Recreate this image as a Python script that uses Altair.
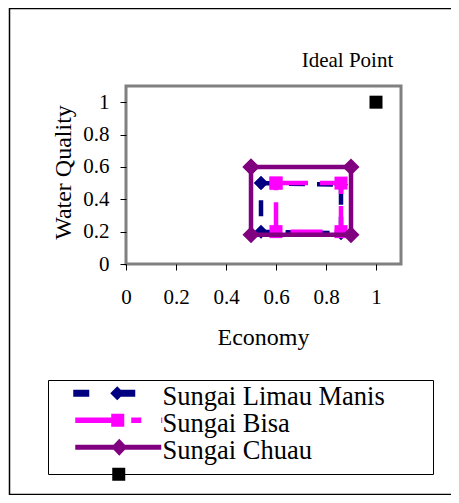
import altair as alt
import pandas as pd

# ---- data ----
series_names = ["Sungai Limau Manis", "Sungai Bisa", "Sungai Chuau"]
ideal_name = "Ideal Point"

limau_economy = [0.54, 0.86, 0.86, 0.54, 0.54]
limau_water = [0.50, 0.49, 0.19, 0.20, 0.50]
bisa_economy = [0.60, 0.86, 0.86, 0.60, 0.60]
bisa_water = [0.50, 0.50, 0.20, 0.20, 0.50]
chuau_economy = [0.50, 0.90, 0.90, 0.50, 0.50]
chuau_water = [0.60, 0.60, 0.18, 0.18, 0.60]
ideal_economy = [1.0]
ideal_water = [1.0]

tick_values = [0, 0.2, 0.4, 0.6, 0.8, 1]
axis_domain = [0, 1.1]

series_colors = ["#000080", "#FF00FF", "#800080", "#000000"]

# legend symbols (custom SVG paths, unit = 10 px)
legend_paths = [
    "M-4.5,-0.75H-2.9V-0.05H-4.5Z M-0.1,-0.75H1.7V-0.05H-0.1Z M-0.1,-1.1L0.6,-0.4L-0.1,0.3L-0.8,-0.4Z",
    "M-4.3,-0.68H-0.4V-0.12H-4.3Z M-0.7,-1.05H0.6V0.25H-0.7Z M1.3,-0.68H2.3V-0.12H1.3Z M4.3,-0.68H4.4V-0.12H4.3Z",
    "M-4.3,-0.65H4.3V-0.15H-4.3Z M0.1,-1.25L0.9,-0.4L0.1,0.45L-0.7,-0.4Z",
    "M-0.6,-1.05H0.7V0.25H-0.6Z",
]

FONT = "Liberation Serif"

rows = []
for name, xs, ys in [
    (series_names[0], limau_economy, limau_water),
    (series_names[1], bisa_economy, bisa_water),
    (series_names[2], chuau_economy, chuau_water),
    (ideal_name, ideal_economy, ideal_water),
]:
    for i, (xv, yv) in enumerate(zip(xs, ys)):
        rows.append({"series": name, "economy": xv, "water": yv, "step": i})
df = pd.DataFrame(rows)

all_names = series_names + [ideal_name]

x_axis = alt.Axis(
    values=tick_values, format="~g", grid=False, domain=False, labelFlush=False,
    tickColor="black", tickWidth=1, tickSize=6,
    labelFont=FONT, labelFontSize=21, labelColor="black",
    labelBaseline="alphabetic", labelPadding=33,
    title="Economy", titleFont=FONT, titleFontSize=24, titleFontWeight="normal",
    titleColor="black", titleX=137, titleY=80, titleBaseline="alphabetic",
    titleAlign="center",
)
y_axis = alt.Axis(
    values=tick_values, format="~g", grid=False, domain=False, labelFlush=False,
    tickColor="black", tickWidth=1, tickSize=6,
    labelFont=FONT, labelFontSize=21, labelColor="black", labelPadding=11,
    title="Water Quality", titleFont=FONT, titleFontSize=24, titleFontWeight="normal",
    titleColor="black", titleX=-63, titleY=86, titleBaseline="middle",
    titleAlign="center", titleAngle=-90,
)

X = alt.X("economy:Q", scale=alt.Scale(domain=axis_domain, nice=False), axis=x_axis)
Y = alt.Y("water:Q", scale=alt.Scale(domain=axis_domain, nice=False), axis=y_axis)

base = alt.Chart(df)

line_styles = [
    dict(color=series_colors[0], strokeWidth=4.5, strokeDash=[16, 12]),
    dict(color=series_colors[1], strokeWidth=4.5, strokeDash=[32, 12]),
    dict(color=series_colors[2], strokeWidth=4.5, strokeCap="round"),
]
point_styles = [
    dict(shape="diamond", size=196, color=series_colors[0]),
    dict(shape="square", size=169, color=series_colors[1]),
    dict(shape="diamond", size=289, color=series_colors[2]),
]

layers = []
for name, ls, ps in zip(series_names, line_styles, point_styles):
    sub = base.transform_filter(alt.datum.series == name)
    layers.append(sub.mark_line(opacity=1, **ls).encode(x=X, y=Y, order="step:Q"))
    layers.append(sub.mark_point(filled=True, opacity=1, **ps).encode(x=X, y=Y))

ideal = base.transform_filter(alt.datum.series == ideal_name)
layers.append(ideal.mark_point(shape="square", size=169, filled=True, opacity=1,
                               color=series_colors[3]).encode(x=X, y=Y))
layers.append(ideal.mark_text(font=FONT, fontSize=21, color="black", align="center",
                              baseline="alphabetic", dx=-28.5, dy=-35)
              .encode(x=X, y=Y, text="series:N"))

leg = alt.Legend(
    orient="none", legendX=-21, legendY=298, title=None, padding=0,
    labelFont=FONT, labelFontSize=26.5, labelColor="black", labelLimit=600,
    labelExpr="datum.label == 'Ideal Point' ? '' : datum.label",
    symbolSize=400, symbolStrokeWidth=0, symbolOpacity=1,
    labelOffset=31, symbolOffset=0, rowPadding=-5.3,
)
legend_layer = base.transform_filter("false").mark_point(filled=True, opacity=1).encode(
    x=X, y=Y,
    fill=alt.Fill("series:N", scale=alt.Scale(domain=all_names, range=series_colors), legend=leg),
    shape=alt.Shape("series:N", scale=alt.Scale(domain=all_names, range=legend_paths), legend=leg),
)
layers.append(legend_layer)

deco = alt.Chart(alt.Data(values=[{"k": 0}]))
outer_frame = deco.mark_rect(fill=None, stroke="black", strokeWidth=1.5).encode(
    x=alt.value(-116.5), x2=alt.value(340), y=alt.value(-77.5), y2=alt.value(408.5))
legend_box = deco.mark_rect(fill=None, stroke="black", strokeWidth=1).encode(
    x=alt.value(-77.5), x2=alt.value(307.5), y=alt.value(294.5), y2=alt.value(388.5))
layers = [outer_frame, legend_box] + layers

chart = alt.layer(*layers).properties(
    width=275, height=178,
    background="white",
    autosize=alt.AutoSizeParams(type="none"),
    padding={"left": 118, "top": 78, "right": 50, "bottom": 231},
).configure_view(stroke="#808080", strokeWidth=3)

chart.save("out.html", embed_options={"renderer": "svg", "actions": False})
